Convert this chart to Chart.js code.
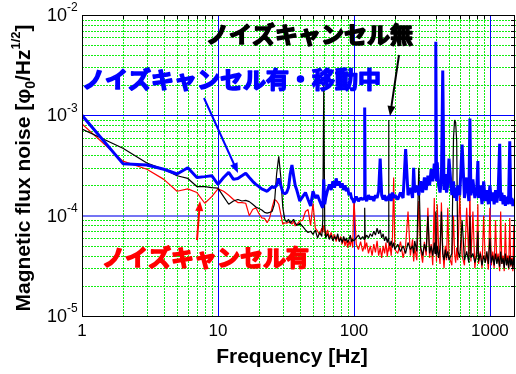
<!DOCTYPE html>
<html>
<head>
<meta charset="utf-8">
<script src="https://cdn.jsdelivr.net/npm/chart.js@4"></script>
<style>
  body { margin: 0; background: #fff; }
  canvas { display: block; }
</style>
</head>
<body>
<canvas id="noise-chart" width="516" height="374"></canvas>
<script>
// Frequency grid [Hz], shared by the three spectra
const freq = [
  1, 2, 3, 4, 5, 6, 7, 8, 9, 10,
  11, 12, 13, 14, 15, 16, 17, 18, 19, 20,
  21, 22, 23, 24, 25, 26, 27, 28, 29, 30,
  31, 32, 33, 34, 35, 36, 37, 38, 40, 42,
  44, 46, 48, 50, 52, 54, 56, 58, 59, 60,
  61, 62, 64, 66, 68, 70, 72, 74, 76, 78,
  80, 82, 84, 86, 88, 90, 92, 94, 96, 98,
  100, 104, 108, 112, 116, 119, 120, 121, 124, 128,
  132, 136, 140, 144, 148, 152, 156, 160, 164, 168,
  172, 176, 179, 180, 181, 184, 188, 192, 196, 200,
  210, 220, 230, 240, 250, 260, 270, 275, 280, 290,
  300, 310, 320, 330, 340, 350, 360, 370, 380, 390,
  395, 400, 405, 410, 420, 430, 440, 450, 460, 470,
  480, 490, 500, 525, 540, 550, 560, 570, 580, 600,
  625, 650, 675, 700, 713, 725, 750, 775, 800, 816,
  825, 850, 875, 900, 925, 950, 975, 1000, 1025, 1050,
  1075, 1100, 1125, 1150, 1180, 1200, 1225, 1250, 1275, 1300,
  1325, 1350, 1375, 1400, 1425, 1450, 1475, 1500, 1515, 1530
];

// ノイズキャンセル有・移動中 (blue)
const movingNoise = [
  1.0e-3, 3.3e-4, 3.2e-4, 2.9e-4, 2.6e-4, 3.0e-4, 2.4e-4, 2.45e-4, 2.5e-4, 2.05e-4,
  2.4e-4, 2.7e-4, 2.3e-4, 2.35e-4, 2.5e-4, 2.65e-4, 2.4e-4, 2.2e-4, 2.05e-4, 1.95e-4,
  1.85e-4, 1.8e-4, 1.75e-4, 1.85e-4, 1.95e-4, 1.9e-4, 2.0e-4, 2.35e-4, 2.0e-4, 1.7e-4,
  1.65e-4, 1.7e-4, 1.9e-4, 2.6e-4, 3.2e-4, 2.5e-4, 2.0e-4, 1.8e-4, 1.4e-4, 1.55e-4,
  1.7e-4, 1.45e-4, 1.25e-4, 1.75e-4, 1.5e-4, 1.6e-4, 1.4e-4, 1.25e-4, 1.2e-4, 2.3e-4,
  1.3e-4, 1.5e-4, 1.8e-4, 2.05e-4, 1.8e-4, 2.2e-4, 1.9e-4, 2.35e-4, 2.0e-4, 2.2e-4,
  1.9e-4, 2.1e-4, 1.8e-4, 2.0e-4, 1.75e-4, 1.9e-4, 1.6e-4, 1.7e-4, 1.5e-4, 1.45e-4,
  1.35e-4, 1.55e-4, 1.4e-4, 1.5e-4, 1.45e-4, 1.5e-4, 1.2e-3, 1.5e-4, 1.4e-4, 1.6e-4,
  1.45e-4, 1.55e-4, 1.4e-4, 1.6e-4, 1.5e-4, 1.75e-4, 3.7e-4, 1.6e-4, 1.45e-4, 1.6e-4,
  1.4e-4, 1.55e-4, 1.45e-4, 1.6e-4, 1.5e-4, 1.65e-4, 1.4e-4, 1.7e-4, 1.5e-4, 1.6e-4,
  1.45e-4, 1.7e-4, 1.5e-4, 4.6e-4, 1.6e-4, 1.9e-4, 1.5e-4, 3.0e-4, 1.7e-4, 2.0e-4,
  1.6e-4, 2.2e-4, 1.7e-4, 2.4e-4, 1.8e-4, 2.5e-4, 2.0e-4, 2.9e-4, 2.2e-4, 3.3e-4,
  2.4e-4, 5.4e-3, 2.2e-4, 3.4e-4, 2.0e-4, 1.7e-4, 2.3e-4, 2.8e-3, 1.8e-4, 2.6e-4,
  1.7e-4, 2.0e-4, 3.7e-4, 1.6e-4, 2.2e-4, 1.5e-4, 1.9e-4, 1.4e-4, 2.0e-4, 1.6e-4,
  5.1e-4, 1.5e-4, 2.4e-4, 1.4e-4, 9.3e-4, 1.6e-4, 2.3e-4, 1.5e-4, 1.8e-4, 3.5e-4,
  1.5e-4, 2.0e-4, 1.3e-4, 2.2e-4, 1.4e-4, 1.8e-4, 1.3e-4, 2.0e-4, 1.4e-4, 1.7e-4,
  1.3e-4, 1.8e-4, 1.35e-4, 1.7e-4, 5.2e-4, 1.4e-4, 1.7e-4, 1.3e-4, 1.6e-4, 1.25e-4,
  1.55e-4, 1.3e-4, 1.6e-4, 5.5e-4, 1.3e-4, 1.5e-4, 1.25e-4, 1.45e-4, 1.3e-4, 1.4e-4
];

// ノイズキャンセル無 (black)
const noCancelNoise = [
  7.3e-4, 4.7e-4, 3.35e-4, 2.9e-4, 2.5e-4, 2.35e-4, 1.95e-4, 1.95e-4, 1.9e-4, 1.88e-4,
  1.55e-4, 1.3e-4, 1.4e-4, 1.45e-4, 1.4e-4, 1.42e-4, 1.38e-4, 1.3e-4, 1.22e-4, 1.18e-4,
  1.14e-4, 1.08e-4, 1.06e-4, 1.08e-4, 1.1e-4, 1.3e-4, 2.6e-4, 3.9e-4, 2.4e-4, 1.2e-4,
  9.2e-5, 8.6e-5, 9.2e-5, 8.4e-5, 8.8e-5, 9.2e-5, 8.5e-5, 8.0e-5, 8.4e-5, 7.8e-5,
  7.2e-5, 6.8e-5, 7.0e-5, 6.5e-5, 7.2e-5, 6.0e-5, 6.8e-5, 6.2e-5, 9.0e-5, 2.0e-3,
  8.0e-5, 6.0e-5, 6.6e-5, 5.8e-5, 6.4e-5, 5.6e-5, 6.2e-5, 5.8e-5, 6.6e-5, 5.5e-5,
  6.0e-5, 5.4e-5, 6.2e-5, 5.6e-5, 6.0e-5, 5.4e-5, 5.8e-5, 6.4e-5, 5.5e-5, 5.8e-5,
  5.6e-5, 6.0e-5, 6.4e-5, 5.8e-5, 6.2e-5, 5.8e-5, 1.2e-4, 5.9e-5, 6.4e-5, 6.0e-5,
  6.6e-5, 6.2e-5, 7.0e-5, 6.4e-5, 7.5e-5, 6.6e-5, 7.2e-5, 6.0e-5, 6.6e-5, 5.6e-5,
  6.2e-5, 5.4e-5, 6.0e-5, 9.0e-4, 5.6e-5, 5.0e-5, 5.6e-5, 4.8e-5, 5.4e-5, 4.6e-5,
  5.2e-5, 4.4e-5, 5.0e-5, 4.2e-5, 5.4e-5, 4.6e-5, 5.0e-5, 4.2e-5, 5.6e-5, 4.4e-5,
  3.0e-4, 4.8e-5, 4.0e-5, 5.2e-5, 4.4e-5, 1.0e-4, 4.2e-5, 5.0e-5, 4.0e-5, 5.4e-5,
  4.2e-5, 1.1e-4, 4.0e-5, 5.0e-5, 3.8e-5, 4.8e-5, 1.1e-4, 4.2e-5, 3.6e-5, 4.6e-5,
  3.8e-5, 4.4e-5, 3.6e-5, 4.2e-5, 6.0e-4, 9.0e-4, 8.5e-4, 5.5e-4, 4.5e-5, 3.8e-5,
  9.0e-5, 3.6e-5, 4.4e-5, 3.4e-5, 1.0e-4, 3.8e-5, 4.2e-5, 3.4e-5, 4.0e-5, 7.0e-5,
  3.5e-5, 4.2e-5, 3.2e-5, 4.0e-5, 3.4e-5, 4.4e-5, 3.3e-5, 6.0e-5, 3.4e-5, 4.0e-5,
  3.2e-5, 4.2e-5, 3.3e-5, 3.9e-5, 3.1e-5, 4.4e-5, 3.3e-5, 3.8e-5, 3.0e-5, 4.2e-5,
  3.2e-5, 3.8e-5, 3.0e-5, 4.0e-5, 3.2e-5, 3.7e-5, 3.0e-5, 3.9e-5, 3.2e-5, 3.6e-5
];

// ノイズキャンセル有 (red)
const cancelNoise = [
  8.2e-4, 3.5e-4, 2.9e-4, 2.3e-4, 1.75e-4, 1.85e-4, 1.7e-4, 1.33e-4, 1.55e-4, 1.85e-4,
  1.75e-4, 1.6e-4, 1.45e-4, 1.35e-4, 1.35e-4, 1.33e-4, 1.0e-4, 1.15e-4, 1.2e-4, 1.05e-4,
  9.5e-5, 9.4e-5, 8.5e-5, 9.5e-5, 1.2e-4, 1.45e-4, 1.4e-4, 1.3e-4, 1.03e-4, 8.2e-5,
  8.5e-5, 8.4e-5, 8.6e-5, 8.8e-5, 8.2e-5, 8.8e-5, 7.9e-5, 8.2e-5, 8.8e-5, 9.0e-5,
  1.1e-4, 1.15e-4, 8.0e-5, 1.33e-4, 7.5e-5, 7.0e-5, 6.5e-5, 7.5e-5, 6.8e-5, 8.0e-5,
  7.0e-5, 6.2e-5, 7.2e-5, 6.0e-5, 6.8e-5, 5.8e-5, 6.5e-5, 5.5e-5, 6.3e-5, 5.6e-5,
  6.2e-5, 5.2e-5, 6.0e-5, 5.0e-5, 5.8e-5, 4.8e-5, 5.6e-5, 5.0e-5, 6.0e-5, 4.8e-5,
  1.5e-4, 5.2e-5, 4.6e-5, 5.5e-5, 4.4e-5, 5.0e-5, 6.5e-5, 4.6e-5, 5.4e-5, 4.2e-5,
  5.0e-5, 4.0e-5, 5.2e-5, 4.3e-5, 5.6e-5, 4.0e-5, 4.8e-5, 3.8e-5, 5.0e-5, 4.2e-5,
  5.4e-5, 3.9e-5, 4.8e-5, 5.5e-5, 4.4e-5, 5.2e-5, 4.0e-5, 6.0e-5, 2.4e-4, 4.6e-5,
  4.2e-5, 5.5e-5, 3.8e-5, 5.0e-5, 1.1e-4, 4.0e-5, 5.8e-5, 3.5e-5, 4.8e-5, 3.6e-5,
  1.4e-4, 4.5e-5, 3.4e-5, 5.5e-5, 4.0e-5, 1.2e-4, 3.8e-5, 5.2e-5, 3.2e-5, 1.5e-4,
  4.2e-5, 5.5e-5, 3.5e-5, 1.3e-4, 4.6e-5, 3.3e-5, 1.35e-4, 4.4e-5, 3.0e-5, 5.0e-5,
  3.6e-5, 1.2e-4, 4.0e-5, 3.2e-5, 1.0e-4, 4.2e-5, 3.4e-5, 4.8e-5, 3.6e-5, 1.6e-4,
  4.0e-5, 3.2e-5, 1.2e-4, 3.8e-5, 1.8e-4, 3.5e-5, 1.1e-4, 3.0e-5, 4.6e-5, 1.3e-4,
  3.3e-5, 4.4e-5, 3.0e-5, 1.0e-4, 3.4e-5, 4.2e-5, 2.9e-5, 1.2e-4, 3.2e-5, 4.4e-5,
  3.0e-5, 9.0e-5, 3.4e-5, 4.2e-5, 2.8e-5, 1.1e-4, 3.3e-5, 4.0e-5, 2.8e-5, 8.5e-5,
  3.2e-5, 4.0e-5, 2.9e-5, 9.5e-5, 3.1e-5, 3.8e-5, 2.8e-5, 8.0e-5, 3.0e-5, 3.6e-5
];

const xTickLabels = ['1', '10', '100', '1000'];
const xTickValues = [1, 10, 100, 1000];
const yTickValues = [1e-2, 1e-3, 1e-4, 1e-5];
const yTickPowers = ['-2', '-3', '-4', '-5'];
const xMinorValues = [2, 3, 4, 5, 6, 7, 8, 9, 20, 30, 40, 50, 60, 70, 80, 90,
  200, 300, 400, 500, 600, 700, 800, 900];
const yMinorValues = [2e-5, 3e-5, 4e-5, 5e-5, 6e-5, 7e-5, 8e-5, 9e-5,
  2e-4, 3e-4, 4e-4, 5e-4, 6e-4, 7e-4, 8e-4, 9e-4,
  2e-3, 3e-3, 4e-3, 5e-3, 6e-3, 7e-3, 8e-3, 9e-3];

const LATIN = 'Arial, "Liberation Sans", sans-serif';
const JP = '"Noto Sans CJK JP", sans-serif';

function toPoints(values) {
  return freq.map((f, i) => ({ x: f, y: values[i] }));
}

function drawArrow(ctx, x1, y1, x2, y2, color) {
  const ang = Math.atan2(y2 - y1, x2 - x1);
  const head = 10;
  ctx.strokeStyle = color;
  ctx.fillStyle = color;
  ctx.lineWidth = 2;
  ctx.beginPath();
  ctx.moveTo(x1, y1);
  ctx.lineTo(x2 - head * 0.8 * Math.cos(ang), y2 - head * 0.8 * Math.sin(ang));
  ctx.stroke();
  ctx.beginPath();
  ctx.moveTo(x2, y2);
  ctx.lineTo(x2 - head * Math.cos(ang) + 4 * Math.sin(ang), y2 - head * Math.sin(ang) - 4 * Math.cos(ang));
  ctx.lineTo(x2 - head * Math.cos(ang) - 4 * Math.sin(ang), y2 - head * Math.sin(ang) + 4 * Math.cos(ang));
  ctx.closePath();
  ctx.fill();
}

// heavy japanese label: fill plus a stroke of the same colour
function heavyText(ctx, text, x, y, color) {
  ctx.fillStyle = color;
  ctx.strokeStyle = color;
  ctx.lineWidth = 1.6;
  ctx.lineJoin = 'round';
  ctx.fillText(text, x, y);
  ctx.strokeText(text, x, y);
}

const figurePlugin = {
  id: 'figure',
  beforeDatasetsDraw(chart) {
    const { ctx, chartArea: a, scales: { x, y } } = chart;
    ctx.save();
    // dotted green minor grid, drawn pixel by pixel so it stays crisp
    ctx.fillStyle = '#11ee11';
    xMinorValues.forEach(v => {
      const px = Math.round(x.getPixelForValue(v));
      for (let yy = a.top; yy < a.bottom; yy += 3) ctx.fillRect(px, yy, 1, 2);
    });
    yMinorValues.forEach(v => {
      const py = Math.round(y.getPixelForValue(v));
      for (let xx = a.left; xx < a.right; xx += 3) ctx.fillRect(xx, py, 2, 1);
    });
    ctx.strokeStyle = '#0000ff';
    ctx.lineWidth = 1;
    [10, 100, 1000].forEach(v => {
      const px = Math.round(x.getPixelForValue(v)) + 0.5;
      ctx.beginPath(); ctx.moveTo(px, a.top); ctx.lineTo(px, a.bottom); ctx.stroke();
    });
    let py = Math.round(y.getPixelForValue(1e-3)) + 0.5;
    ctx.beginPath(); ctx.moveTo(a.left, py); ctx.lineTo(a.right, py); ctx.stroke();
    ctx.strokeStyle = 'rgba(70, 70, 240, 0.75)';
    ctx.lineWidth = 2;
    py = Math.round(y.getPixelForValue(1e-4));
    ctx.beginPath(); ctx.moveTo(a.left, py); ctx.lineTo(a.right, py); ctx.stroke();
    ctx.restore();
  },
  afterDatasetsDraw(chart) {
    const { ctx, chartArea: a, scales: { x, y } } = chart;
    ctx.save();
    // frame and small ticks on the top and right edges
    ctx.strokeStyle = '#000';
    ctx.lineWidth = 1;
    ctx.strokeRect(a.left + 0.5, a.top + 0.5, a.right - a.left - 1, a.bottom - a.top);
    xMinorValues.forEach(v => {
      const px = Math.round(x.getPixelForValue(v)) + 0.5;
      ctx.beginPath(); ctx.moveTo(px, a.top); ctx.lineTo(px, a.top + 4); ctx.stroke();
    });
    yMinorValues.forEach(v => {
      const p = Math.round(y.getPixelForValue(v)) + 0.5;
      ctx.beginPath(); ctx.moveTo(a.right, p); ctx.lineTo(a.right - 4, p); ctx.stroke();
    });

    // tick labels
    ctx.fillStyle = '#000';
    ctx.font = '17px ' + LATIN;
    ctx.textAlign = 'center';
    ctx.textBaseline = 'middle';
    xTickValues.forEach((v, i) => {
      ctx.fillText(xTickLabels[i], x.getPixelForValue(v), a.bottom + 15);
    });
    yTickValues.forEach((v, i) => {
      const p = y.getPixelForValue(v);
      ctx.font = '18px ' + LATIN;
      ctx.textAlign = 'right';
      ctx.fillText('10', a.left - 15, p + 1);
      ctx.font = '12px ' + LATIN;
      ctx.textAlign = 'left';
      ctx.fillText(yTickPowers[i], a.left - 15, p - 7);
    });

    // axis titles
    ctx.font = 'bold 21px ' + LATIN;
    ctx.textAlign = 'center';
    ctx.textBaseline = 'alphabetic';
    ctx.fillText('Frequency [Hz]', 292, 363);

    const parts = [
      ['Magnetic flux noise [φ', 'bold 21px', 0],
      ['0', 'bold 14px', 5],
      ['/Hz', 'bold 21px', 0],
      ['1/2', 'bold 13px', -10],
      [']', 'bold 21px', 0]
    ];
    let total = 0;
    parts.forEach(p => { ctx.font = p[1] + ' ' + LATIN; total += ctx.measureText(p[0]).width; });
    ctx.translate(30, 168);
    ctx.rotate(-Math.PI / 2);
    ctx.textAlign = 'left';
    let cx = -total / 2;
    parts.forEach(p => {
      ctx.font = p[1] + ' ' + LATIN;
      ctx.fillText(p[0], cx, p[2]);
      cx += ctx.measureText(p[0]).width;
    });
    ctx.setTransform(1, 0, 0, 1, 0, 0);

    // annotations
    ctx.font = 'bold 23px ' + JP;
    ctx.textAlign = 'left';
    ctx.textBaseline = 'middle';
    heavyText(ctx, 'ノイズキャンセル無', 206, 34, '#000000');
    heavyText(ctx, 'ノイズキャンセル有・移動中', 82, 79, '#0000ff');
    heavyText(ctx, 'ノイズキャンセル有', 102, 257, '#ff0000');

    drawArrow(ctx, 399, 55, 390, 116, '#000');
    drawArrow(ctx, 204, 98, 238, 173, '#0000ff');
    drawArrow(ctx, 197, 240, 200, 201, '#ff0000');
    ctx.restore();
  }
};

function loadChart() {
  const ctx = document.getElementById('noise-chart').getContext('2d');
  new Chart(ctx, {
    type: 'line',
    data: {
      datasets: [
        {
          label: 'ノイズキャンセル有・移動中',
          data: toPoints(movingNoise),
          borderColor: '#0000ff',
          borderWidth: 3,
        },
        {
          label: 'ノイズキャンセル無',
          data: toPoints(noCancelNoise),
          borderColor: '#000000',
          borderWidth: 1.2,
        },
        {
          label: 'ノイズキャンセル有',
          data: toPoints(cancelNoise),
          borderColor: '#ff0000',
          borderWidth: 1.2,
        },
      ],
    },
    options: {
      responsive: false,
      animation: false,
      devicePixelRatio: 1,
      layout: { padding: { left: 82, top: 15, right: 1, bottom: 58 } },
      elements: {
        point: { radius: 0 },
        line: { tension: 0, borderJoinStyle: 'bevel' },
      },
      plugins: {
        legend: { display: false },
        tooltip: { enabled: false },
      },
      scales: {
        x: { type: 'logarithmic', min: 1, max: 1530, display: false },
        y: { type: 'logarithmic', min: 1e-5, max: 1e-2, display: false },
      },
    },
    plugins: [figurePlugin],
  });
}

window.onload = loadChart;
</script>
</body>
</html>
